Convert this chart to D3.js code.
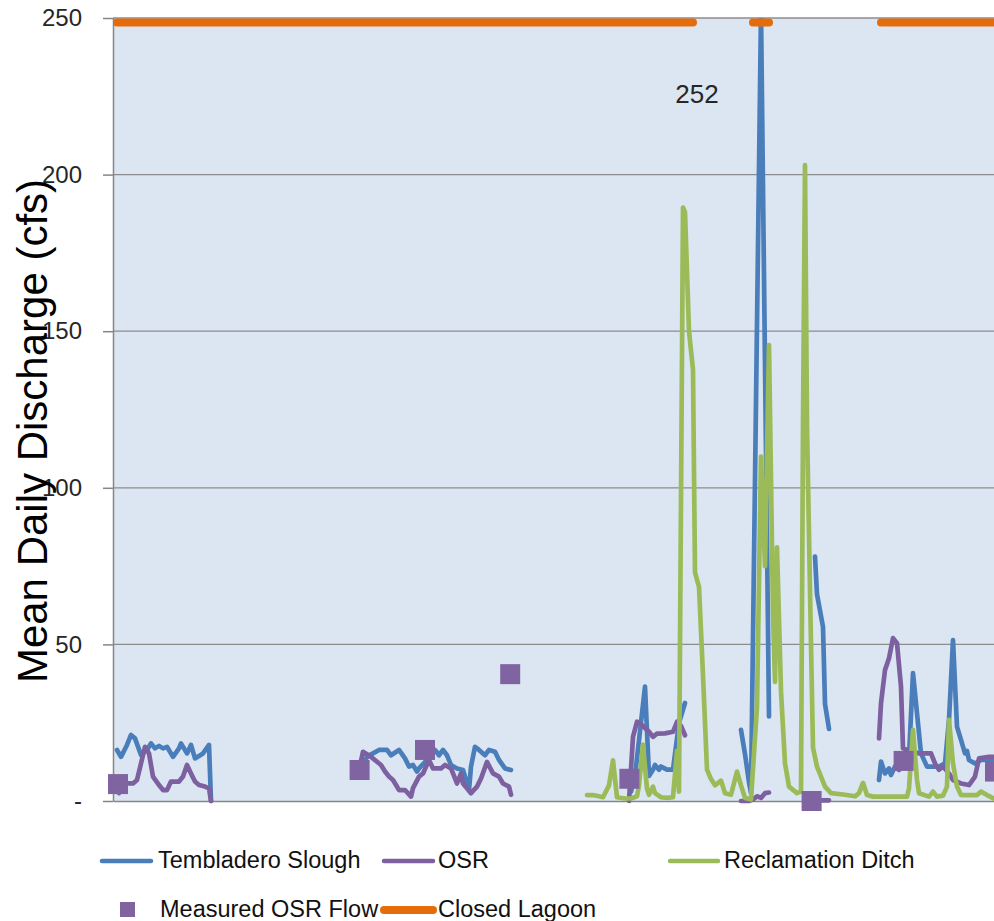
<!DOCTYPE html>
<html><head><meta charset="utf-8">
<script src="https://cdn.jsdelivr.net/npm/d3@7"></script>
<style>
body{margin:0;background:#fff;}
svg{display:block;font-family:"Liberation Sans",Arial,sans-serif;}
</style>
</head><body>
<svg id="chart" width="994" height="921"></svg>
<script>
// ---------- DATA (day index, mean daily discharge cfs); null = gap ----------
const yTicks = [0, 50, 100, 150, 200, 250];

const tembladero = [
  [2,16.3],[4,14.1],[7,17.9],[9,21.1],[11,20],[14,14.7],[17,16.3],[19,18.4],[21,16.8],[23,17.6],
  [25,16.8],[27,17.3],[30,14.1],[33,16.8],[34,18.4],[37,15.2],[39,17.9],[41,13.6],[45,15.2],[48,17.9],[49,0],
  null,
  [123,11],[125,12.5],[128,14.6],[130,15.2],[133,16.3],[137,16.3],[139,14.6],[143,16.3],[146,13.6],[148,11],
  [150,11.5],[152,9.4],[153,10.4],[157,13.1],[158,14.6],[161,16.3],[163,14.6],[165,16.3],[167,14.6],[169,11.5],
  [172,10.4],[175,9.9],[178,3.5],[179,11],[181,17.3],[183,16.3],[186,14.6],[188,16.3],[191,15.7],[193,13.1],
  [196,10.4],[199,9.9],
  null,
  [259,3],[261,8],[266,36.5],[268,8],[270,10],[271,11.5],[273,10],[274,11],[277,10],[280,10],[283,25],[286,31.3],
  null,
  [314,22.7],[316,15],[318,6],[319,2.5],[324,252],[328,27],
  null,
  [351,78],[352,66],[355,55.6],[356,31],[358,23],
  null,
  [383,6.7],[384,12.6],[386,8.8],[388,10.4],[389,8.3],[391,11],[393,9.9],[395,11],[398,14.1],[400,40.8],
  [402,28],[404,15.2],[407,11],[413,11],[416,12],[418,25.9],[420,51.4],[422,23.7],[424,19.5],[426,15.2],
  [427,16],[428,13.1],[431,12],[434,13.1],[440,13.1],[444,13]
];

const osr = [
  [3,2.5],[5,5.6],[10,5.6],[12,6.7],[16,17.3],[18,15.2],[20,7.8],[23,5.1],[25,3.5],[27,3.5],[29,6.2],[33,6.2],
  [35,7.8],[37,11.5],[39,8.8],[41,6.2],[43,5.1],[46,4.6],[48,4],[49,0],
  null,
  [123,9.9],[125,15.7],[129,14.1],[134,11.5],[136,9.4],[138,7.8],[140,6.7],[143,3.5],[146,3.5],[149,1.4],
  [150,4.1],[153,7.8],[155,8.8],[158,13.1],[160,10.4],[164,10.4],[166,11.5],[169,10.4],[172,5.6],[174,8.8],
  [175,5.6],[179,2.5],[182,4.6],[184,7.2],[187,12.5],[190,8.8],[193,7.8],[195,5.6],[198,4.6],[199,2],
  null,
  [258,0],[260,20.5],[262,25.3],[264,24.5],[268,22.1],[270,20.5],[272,21.5],[276,21.6],[280,22.1],[282,25.3],
  [284,24],[286,21],
  null,
  [314,0],[318,0],[320,0.5],[322,1.5],[324,1],[326,2.5],[328,2.7],
  null,
  [349,0],[353,0.2],[358,0.2],
  null,
  [383,20],[384,31.2],[386,41.8],[388,45.6],[390,52],[392,50.4],[394,36.5],[395,16.8],[403,15.2],[409,15.2],
  [411,12],[413,10],[415,11],[418,8.8],[420,6.7],[424,5.6],[428,5.1],[431,7.8],[433,13.6],[438,14.1],[444,14.1]
];

const reclamation = [
  [237,1.9],[240,1.9],[243,1.5],[245,1.2],[248,5],[250,13],[252,1.2],[256,0.8],[259,0.8],[262,1.5],
  [263,5],[265,18],[267,4],[268,2],[270,4.6],[271,2.5],[274,1.2],[277,1],[280,1.2],[282,16],
  [283,3],[285,189.5],[286,188],[288,150],[290,137.6],[291,73],[293,68.4],[295,40],[297,10],[299,7],
  [301,5],[304,6.5],[306,2.5],[309,2],[312,9.4],[314,5],[316,1],[319,0.5],[322,30],[324,110],
  [326,75],[328,145.6],[330,60],[331,38],[332,81],[334,35],[336,12],[338,4.6],[342,2.5],[344,3],
  [345,120],[346,203],[347,120],[349,50],[350,17],[352,11],[356,4.6],[359,2.5],[366,2],[371,1.5],
  [373,2.5],[375,5.8],[377,1.9],[380,1.4],[397,1.4],[398,4],[400,22.7],[402,6.7],[403,2.5],[408,1.4],
  [410,3],[412,1.4],[415,1.7],[417,4.6],[418,25.9],[420,12],[422,4.6],[424,1.9],[432,1.9],[434,3],
  [437,1.9],[440,0.9],[444,0.5]
];

const measuredOSR = [
  [2.5,5.4],[123.3,9.9],[156,16.3],[198.6,40.5],[258.2,7.1],[349.3,0],[395.3,12.8],[441,9.4]
];

const lagoonPeriods = [[2,290],[320,328],[384,450]];
const lagoonLevel = 248.6;
const peakValue = 252;
const peakDay = 324;

const legendRow1 = ["Tembladero Slough", "OSR", "Reclamation Ditch"];
const legendRow2 = ["Measured OSR Flow", "Closed Lagoon"];

// ---------- STYLE ----------
const C = {
  blue: "#4A7EBB", purple: "#7D60A0", green: "#9BBB59", orange: "#E46C0A",
  square: "#8064A2", plotBg: "#DCE6F2", grid: "#8C8C8C", axis: "#868686", text: "#262626"
};

const svg = d3.select("#chart");
const L = 113, T = 18, B = 801, R = 994;

const x = d3.scaleLinear().domain([0, 450]).range([L, 1013]);
const y = d3.scaleLinear().domain([0, 250]).range([B, T]);

// plot background
svg.append("rect").attr("x", L).attr("y", T).attr("width", R - L).attr("height", B - T).attr("fill", C.plotBg);

// gridlines
svg.append("g").selectAll("line").data(yTicks.filter(d => d > 0)).join("line")
  .attr("x1", L).attr("x2", R).attr("y1", d => y(d)).attr("y2", d => y(d))
  .attr("stroke", C.grid).attr("stroke-width", 1.3);

// y axis
const yAxis = svg.append("g").attr("transform", `translate(${L},0)`)
  .call(d3.axisLeft(y).tickValues(yTicks).tickSize(10).tickSizeOuter(0).tickPadding(21)
    .tickFormat(d => d === 0 ? "-" : d3.format("d")(d)));
yAxis.select(".domain").attr("stroke", C.axis).attr("stroke-width", 1.5);
yAxis.selectAll(".tick line").attr("stroke", C.axis).attr("stroke-width", 1.5);
yAxis.selectAll(".tick text").attr("font-size", 24).attr("fill", C.text)
  .attr("font-family", '"Liberation Sans", Arial, sans-serif');

// x axis (no labels)
const xAxis = svg.append("g").attr("transform", `translate(0,${B})`)
  .call(d3.axisBottom(x).tickValues([]).tickSizeOuter(0));
xAxis.select(".domain").attr("stroke", C.axis).attr("stroke-width", 1.6);

// clip (top of plot only)
svg.append("clipPath").attr("id", "clip").append("rect")
  .attr("x", L).attr("y", T).attr("width", R - L + 20).attr("height", 921 - T);

const line = d3.line().defined(d => d !== null).x(d => x(d[0])).y(d => y(d[1]));
const lines = svg.append("g").attr("clip-path", "url(#clip)");

[[tembladero, C.blue], [osr, C.purple], [reclamation, C.green]].forEach(([data, col]) => {
  lines.append("path").datum(data).attr("d", line)
    .attr("fill", "none").attr("stroke", col).attr("stroke-width", 4.7)
    .attr("stroke-linejoin", "round").attr("stroke-linecap", "round");
});

// measured OSR flow squares
const sq = 20;
svg.append("g").selectAll("rect").data(measuredOSR).join("rect")
  .attr("x", d => x(d[0]) - sq / 2).attr("y", d => y(d[1]) - sq / 2)
  .attr("width", sq).attr("height", sq).attr("fill", C.square);

// closed lagoon
svg.append("g").selectAll("line").data(lagoonPeriods).join("line")
  .attr("x1", d => x(d[0])).attr("x2", d => x(d[1]))
  .attr("y1", y(lagoonLevel)).attr("y2", y(lagoonLevel))
  .attr("stroke", C.orange).attr("stroke-width", 8).attr("stroke-linecap", "round");

// peak annotation
svg.append("text").attr("x", x(peakDay) - 64).attr("y", 103)
  .attr("text-anchor", "middle").attr("font-size", 26).attr("fill", C.text)
  .text(d3.format("d")(peakValue));

// y title
svg.append("text").attr("transform", "translate(47,431) rotate(-90)")
  .attr("text-anchor", "middle").attr("font-size", 42).attr("fill", "#000")
  .text("Mean Daily Discharge (cfs)");

// legend
const lg = svg.append("g").attr("font-size", 23.5).attr("fill", "#111");
const row1 = [
  {x1: 102, x2: 151, tx: 158, col: C.blue},
  {x1: 384, x2: 433, tx: 438, col: C.purple},
  {x1: 670, x2: 718, tx: 724, col: C.green}
];
row1.forEach((r, i) => {
  lg.append("line").attr("x1", r.x1).attr("x2", r.x2).attr("y1", 861).attr("y2", 861)
    .attr("stroke", r.col).attr("stroke-width", 4.5).attr("stroke-linecap", "round");
  lg.append("text").attr("x", r.tx).attr("y", 868).text(legendRow1[i]);
});
lg.append("rect").attr("x", 120).attr("y", 902).attr("width", 15).attr("height", 15).attr("fill", C.square);
lg.append("text").attr("x", 160).attr("y", 917).text(legendRow2[0]);
lg.append("line").attr("x1", 384).attr("x2", 433).attr("y1", 910).attr("y2", 910)
  .attr("stroke", C.orange).attr("stroke-width", 8).attr("stroke-linecap", "round");
lg.append("text").attr("x", 438).attr("y", 917).text(legendRow2[1]);
</script>
</body></html>
